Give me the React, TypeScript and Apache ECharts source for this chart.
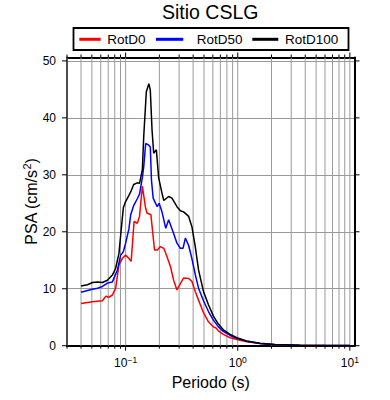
import React, { useEffect, useRef } from 'react';
import * as echarts from 'echarts';

const seriesNames = ['RotD0', 'RotD50', 'RotD100'];
const seriesColors = ['#ff0000', '#0000ff', '#000000'];

const periodsD0 = [0.04, 0.0457, 0.0506, 0.0561, 0.0621, 0.0667, 0.0706, 0.0762, 0.0815, 0.0872, 0.0933, 0.1, 0.107, 0.112, 0.119, 0.127, 0.133, 0.141, 0.15, 0.155, 0.168, 0.181, 0.192, 0.204, 0.219, 0.234, 0.251, 0.268, 0.287, 0.308, 0.329, 0.365, 0.39, 0.418, 0.447, 0.495, 0.548, 0.607, 0.64, 0.672, 0.744, 0.857, 0.98, 1.2, 1.58, 2.15, 3.58, 6.0, 10];
const rotD0 = [7.4, 7.6, 7.7, 7.8, 7.9, 8.7, 8.5, 8.9, 10.1, 14.2, 15.3, 15.9, 15.3, 14.8, 21.8, 21.5, 22.7, 28.0, 24.4, 23.3, 23.0, 16.8, 16.8, 17.4, 17.1, 15.6, 13.9, 11.5, 9.8, 10.9, 11.9, 11.8, 11.3, 9.5, 8.0, 5.8, 4.2, 3.3, 3.1, 2.6, 2.0, 1.4, 1.1, 0.7, 0.4, 0.15, 0.05, 0.02, 0.01];

const periodsD50 = [0.04, 0.0457, 0.0506, 0.0561, 0.0621, 0.0688, 0.0762, 0.0845, 0.0903, 0.0954, 0.1, 0.107, 0.111, 0.118, 0.127, 0.133, 0.141, 0.145, 0.151, 0.161, 0.166, 0.17, 0.176, 0.185, 0.191, 0.199, 0.211, 0.228, 0.242, 0.268, 0.287, 0.308, 0.325, 0.341, 0.365, 0.39, 0.418, 0.447, 0.495, 0.548, 0.607, 0.672, 0.744, 0.857, 0.98, 1.2, 1.58, 2.15, 3.58, 6.0, 10];
const rotD50 = [9.4, 9.7, 9.9, 10.1, 10.4, 11.0, 11.2, 13.3, 15.9, 16.5, 18.0, 20.5, 23.0, 24.6, 25.8, 26.6, 29.5, 31.4, 35.5, 35.2, 34.9, 29.1, 25.9, 25.0, 24.4, 25.0, 23.5, 20.6, 22.1, 19.7, 18.0, 17.1, 17.1, 18.9, 17.6, 15.3, 12.5, 10.1, 7.9, 6.0, 4.5, 3.3, 2.5, 1.8, 1.3, 0.8, 0.4, 0.18, 0.07, 0.03, 0.02];

const periodsD100 = [0.04, 0.0457, 0.0506, 0.0561, 0.0621, 0.0688, 0.0762, 0.0815, 0.0872, 0.0903, 0.0954, 0.1, 0.107, 0.111, 0.118, 0.127, 0.133, 0.141, 0.145, 0.153, 0.161, 0.166, 0.172, 0.178, 0.188, 0.197, 0.211, 0.219, 0.242, 0.259, 0.287, 0.308, 0.329, 0.365, 0.39, 0.418, 0.447, 0.495, 0.548, 0.607, 0.672, 0.744, 0.857, 0.98, 1.2, 1.58, 2.15, 3.58, 6.0, 10];
const rotD100 = [10.5, 10.7, 11.1, 11.2, 11.1, 11.5, 12.4, 13.6, 16.2, 19.4, 24.2, 25.3, 26.4, 27.0, 28.3, 28.6, 28.5, 30.9, 36.7, 44.6, 46.0, 44.9, 37.9, 33.8, 34.4, 29.5, 26.8, 25.5, 26.2, 25.9, 24.4, 23.7, 23.5, 22.7, 20.9, 17.4, 13.3, 9.5, 7.2, 5.2, 3.8, 2.8, 2.0, 1.4, 0.83, 0.42, 0.2, 0.08, 0.03, 0.02];

const xTickValues = [0.03, 0.04, 0.05, 0.06, 0.07, 0.08, 0.09, 0.1, 0.2, 0.3, 0.4, 0.5, 0.6, 0.7, 0.8, 0.9, 1, 2, 3, 4, 5, 6, 7, 8, 9, 10];
const yTickValues = [0, 10, 20, 30, 40, 50];

const X_MIN = 0.03;
const X_MAX = 11;
const Y_MIN = 0;
const Y_MAX = 50.6;

const FONT = 'Liberation Sans, Arial, Helvetica, sans-serif';

function isPow10(v: number) {
  const e = Math.log10(v);
  return Math.abs(e - Math.round(e)) < 1e-6;
}

export default function App() {
  const ref = useRef<HTMLDivElement>(null);
  useEffect(() => {
    if (!ref.current) return;
    const chart = echarts.init(ref.current, null, { renderer: 'svg' });
    const pairs = (xs: number[], ys: number[]) => xs.map((x, i) => [x, ys[i]]);
    const dataSets = [pairs(periodsD0, rotD0), pairs(periodsD50, rotD50), pairs(periodsD100, rotD100)];

    const logLabel = (v: number) => {
      if (!isPow10(v)) return '';
      const r = Math.round(Math.log10(v));
      const ex = r < 0 ? '\u2212' + String(-r) : String(r);
      return '{b|10}{e|' + ex + '}';
    };

    const baseX = {
      type: 'log',
      logBase: 10,
      min: X_MIN,
      max: X_MAX,
      axisTick: { show: false },
      splitLine: { show: false },
      minorTick: { show: false },
      minorSplitLine: { show: false },
    };
    const baseY = {
      type: 'value',
      min: Y_MIN,
      max: Y_MAX,
      interval: 10,
      axisTick: { show: false },
    };

    const legendTexts = [1.6, 8.4, 1.7];
    const legendLefts = [79.3, 156, 252.3];
    const legendWidths = [21.4, 27.3, 26];

    const option: any = {
      animation: false,
      textStyle: { fontFamily: FONT },
      title: {
        text: 'Sitio CSLG',
        left: 162,
        top: 2,
        padding: 0,
        textStyle: { fontSize: 19.5, fontWeight: 'normal', color: '#000', fontFamily: FONT },
      },
      legend: seriesNames.map((n, i) => ({
        data: [n],
        left: legendLefts[i],
        top: 32.3,
        padding: 0,
        icon: 'rect',
        itemWidth: legendWidths[i],
        itemHeight: 3,
        selectedMode: false,
        textStyle: {
          fontSize: 13.5,
          lineHeight: 14,
          color: '#000',
          fontFamily: FONT,
          padding: [0, 0, 0, legendTexts[i]],
        },
      })),
      graphic: [
        {
          type: 'rect',
          shape: { x: 73.5, y: 28, width: 275, height: 22 },
          style: { fill: 'none', stroke: '#000', lineWidth: 1.8 },
          silent: true,
        },
      ],
      grid: { left: 67, right: 35.5, top: 57.5, bottom: 54.3, containLabel: false },
      xAxis: [
        {
          ...baseX,
          position: 'bottom',
          axisLine: { show: true, onZero: false, lineStyle: { color: '#000', width: 2 } },
          axisLabel: {
            show: true,
            margin: 10,
            color: '#000',
            formatter: logLabel,
            showMinLabel: false,
            showMaxLabel: false,
            rich: {
              b: { fontSize: 12, lineHeight: 15, fontFamily: FONT, color: '#000' },
              e: { fontSize: 8.5, lineHeight: 9, verticalAlign: 'top', fontFamily: FONT, color: '#000' },
            },
          },
          name: 'Periodo (s)',
          nameLocation: 'middle',
          nameGap: 29,
          nameMoveOverlap: false,
          nameTextStyle: { fontSize: 16, color: '#000', fontFamily: FONT },
        },
        {
          ...baseX,
          position: 'top',
          axisLine: { show: true, onZero: false, lineStyle: { color: '#000', width: 2 } },
          axisLabel: { show: false },
        },
      ],
      yAxis: [
        {
          ...baseY,
          position: 'left',
          axisLine: { show: true, onZero: false, lineStyle: { color: '#000', width: 2 } },
          splitLine: { show: true, lineStyle: { color: '#9a9a9a', width: 1 } },
          axisLabel: {
            show: true,
            margin: 11,
            fontSize: 12,
            color: '#000',
            fontFamily: FONT,
            showMaxLabel: false,
            formatter: (v: number) => (Math.abs(v % 10) < 1e-9 ? String(v) : ''),
          },
          name: 'PSA (cm/s{s|2})',
          nameLocation: 'middle',
          nameGap: 26,
          nameMoveOverlap: false,
          nameTextStyle: {
            fontSize: 16,
            lineHeight: 20,
            color: '#000',
            fontFamily: FONT,
            rich: {
              s: { fontSize: 11, lineHeight: 11, verticalAlign: 'top', color: '#000', fontFamily: FONT },
            },
          },
        },
        {
          ...baseY,
          position: 'right',
          axisLine: { show: true, onZero: false, lineStyle: { color: '#000', width: 2 } },
          splitLine: { show: false },
          axisLabel: { show: false },
        },
      ],
      series: [
        {
          type: 'custom',
          xAxisIndex: 0,
          yAxisIndex: 0,
          silent: true,
          clip: false,
          z: 1,
          data: xTickValues.map((v) => [v, 0]),
          renderItem: (params: any, api: any) => {
            const v = api.value(0);
            const x = api.coord([v, 0])[0];
            const cs = params.coordSys;
            const len = isPow10(v) ? 5 : 3;
            const top = cs.y;
            const bot = cs.y + cs.height;
            return {
              type: 'group',
              children: [
                { type: 'line', shape: { x1: x, y1: top, x2: x, y2: bot }, style: { stroke: '#9a9a9a', lineWidth: 1 } },
                { type: 'line', shape: { x1: x, y1: bot, x2: x, y2: bot + len }, style: { stroke: '#000', lineWidth: 1 } },
                { type: 'line', shape: { x1: x, y1: top, x2: x, y2: top - len }, style: { stroke: '#000', lineWidth: 1 } },
              ],
            };
          },
        },
        {
          type: 'custom',
          xAxisIndex: 0,
          yAxisIndex: 0,
          silent: true,
          clip: false,
          z: 1,
          data: yTickValues.map((v) => [1, v]),
          renderItem: (params: any, api: any) => {
            const y = api.coord([1, api.value(1)])[1];
            const cs = params.coordSys;
            const l = cs.x;
            const r = cs.x + cs.width;
            return {
              type: 'group',
              children: [
                { type: 'line', shape: { x1: l - 5, y1: y, x2: l, y2: y }, style: { stroke: '#000', lineWidth: 1 } },
                { type: 'line', shape: { x1: r, y1: y, x2: r + 5, y2: y }, style: { stroke: '#000', lineWidth: 1 } },
              ],
            };
          },
        },
        ...seriesNames.map((n, i) => ({
          type: 'line',
          name: n,
          xAxisIndex: 0,
          yAxisIndex: 0,
          data: dataSets[i],
          showSymbol: false,
          symbol: 'none',
          z: 3 + i,
          color: seriesColors[i],
          lineStyle: { color: seriesColors[i], width: 1.5 },
        })),
      ],
    };
    chart.setOption(option);
    return () => chart.dispose();
  }, []);
  return (
    <div
      ref={ref}
      style={{ position: 'fixed', left: 0, top: 0, width: 390, height: 400, background: '#fff' }}
    />
  );
}
